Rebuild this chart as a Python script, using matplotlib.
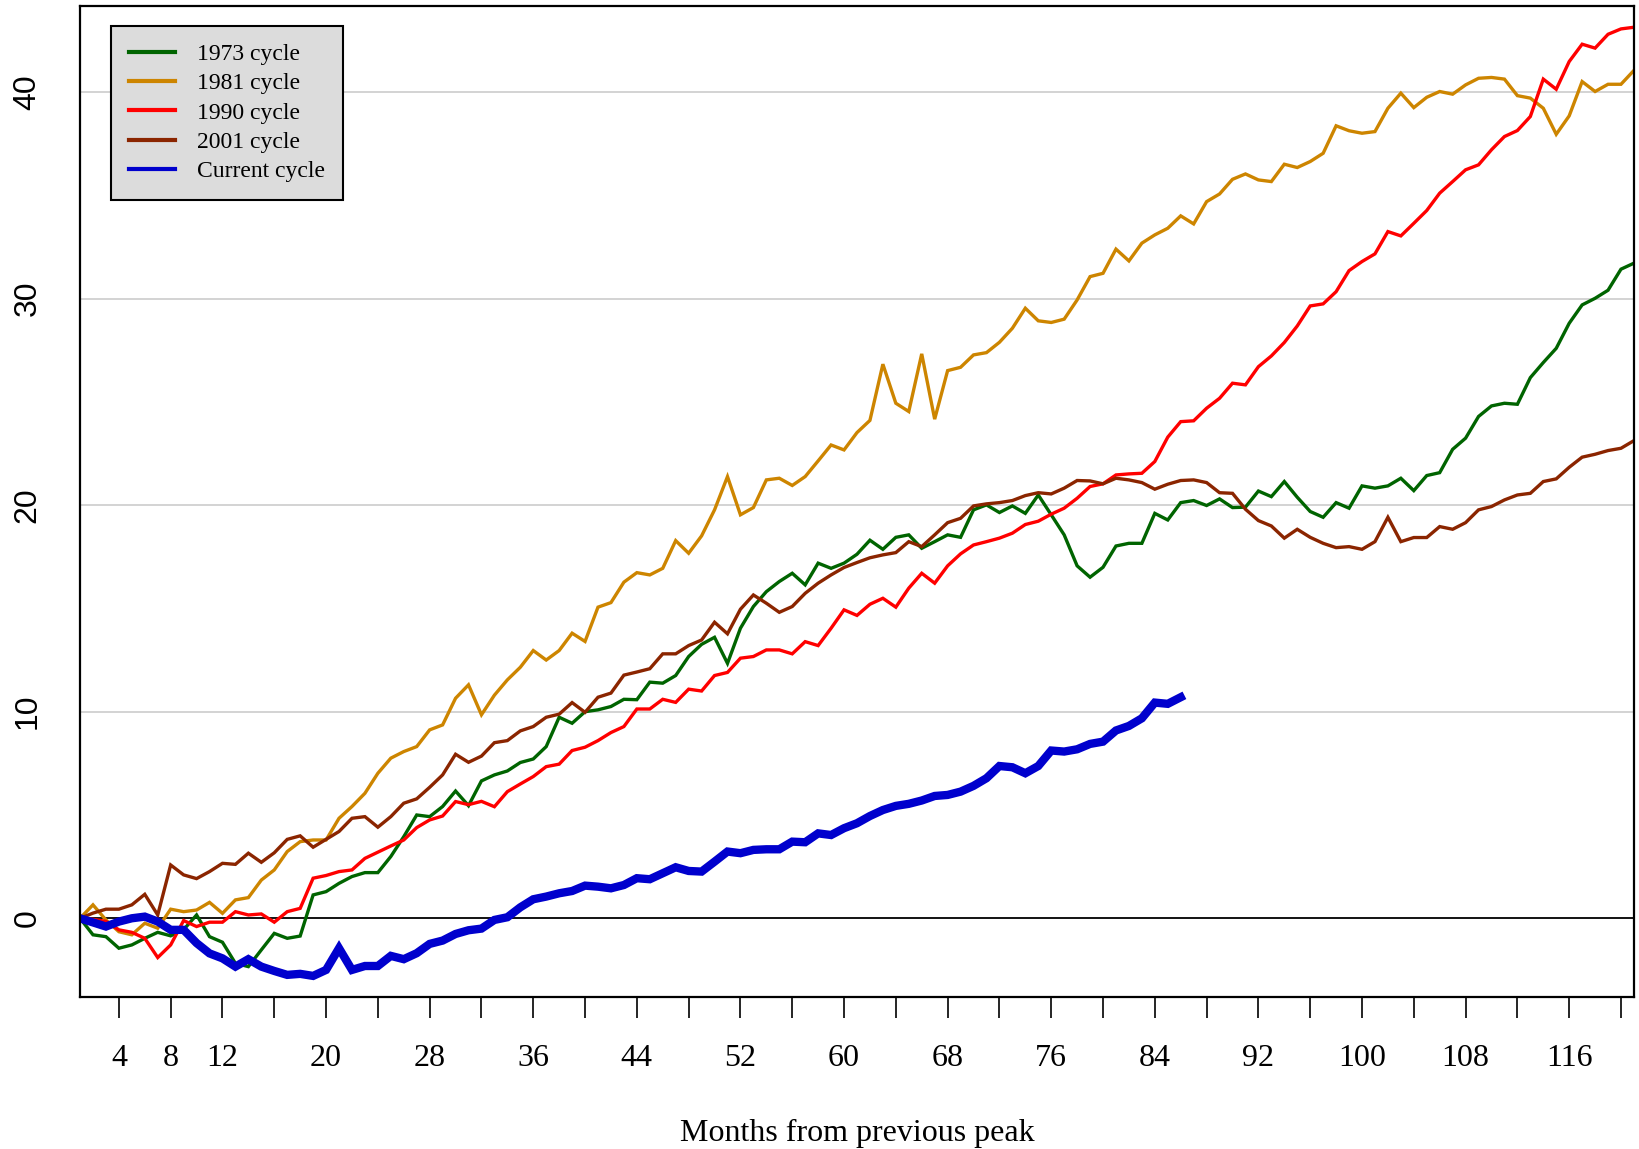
import numpy as np
import matplotlib
matplotlib.use("Agg")
import matplotlib.pyplot as plt

# employment change from previous peak, by month (index 1 = peak)
cycle_1973 = [0, -0.8, -0.89, -1.45, -1.29, -0.97, -0.68, -0.85, -0.55, 0.16,
              -0.89, -1.16, -2.18, -2.34, -1.53, -0.73, -0.97, -0.86, 1.13, 1.29,
              1.69, 2.02, 2.21, 2.21, 2.99, 3.95, 5.0, 4.92, 5.41, 6.16,
              5.45, 6.65, 6.94, 7.13, 7.54, 7.71, 8.31, 9.73, 9.44, 10.0,
              10.09, 10.25, 10.6, 10.58, 11.43, 11.38, 11.75, 12.67, 13.26, 13.6,
              12.34, 14.04, 15.09, 15.81, 16.3, 16.7, 16.14, 17.19, 16.94, 17.19,
              17.62, 18.3, 17.86, 18.44, 18.56, 17.91, 18.23, 18.56, 18.44, 19.77,
              20.01, 19.64, 19.96, 19.6, 20.49, 19.53, 18.56, 17.06, 16.51, 16.99,
              18.02, 18.15, 18.15, 19.6, 19.28, 20.12, 20.22, 19.98, 20.3, 19.88,
              19.9, 20.68, 20.41, 21.14, 20.38, 19.69, 19.41, 20.12, 19.85, 20.93,
              20.82, 20.93, 21.3, 20.7, 21.43, 21.57, 22.7, 23.24, 24.29, 24.8,
              24.93, 24.88, 26.17, 26.9, 27.59, 28.8, 29.69, 30.01, 30.4, 31.42,
              31.71]
cycle_1981 = [0, 0.65, -0.08, -0.65, -0.8, -0.24, -0.48, 0.44, 0.32, 0.40,
              0.77, 0.24, 0.89, 1.0, 1.85, 2.34, 3.23, 3.71, 3.79, 3.79,
              4.84, 5.41, 6.05, 7.02, 7.75, 8.07, 8.31, 9.12, 9.36, 10.65,
              11.3, 9.85, 10.8, 11.54, 12.15, 12.96, 12.5, 12.96, 13.8, 13.4,
              15.06, 15.28, 16.27, 16.73, 16.62, 16.94, 18.28, 17.67, 18.51, 19.77,
              21.38, 19.53, 19.88, 21.22, 21.3, 20.95, 21.38, 22.14, 22.91, 22.67,
              23.51, 24.1, 26.82, 24.93, 24.53, 27.32, 24.16, 26.51, 26.67, 27.27,
              27.38, 27.88, 28.56, 29.53, 28.92, 28.84, 29.0, 29.93, 31.06, 31.22,
              32.39, 31.82, 32.68, 33.08, 33.4, 34.0, 33.61, 34.69, 35.06, 35.77,
              36.03, 35.74, 35.66, 36.5, 36.34, 36.63, 37.03, 38.36, 38.12, 38.0,
              38.08, 39.21, 39.94, 39.24, 39.74, 40.02, 39.89, 40.34, 40.66, 40.7,
              40.62, 39.82, 39.7, 39.21, 37.95, 38.84, 40.5, 40.02, 40.37, 40.37,
              41.04]
cycle_1990 = [0, -0.05, -0.15, -0.56, -0.68, -0.97, -1.9, -1.29, -0.11, -0.4,
              -0.19, -0.19, 0.32, 0.16, 0.21, -0.19, 0.32, 0.48, 1.94, 2.07,
              2.26, 2.34, 2.9, 3.2, 3.5, 3.79, 4.39, 4.76, 4.95, 5.65,
              5.5, 5.66, 5.4, 6.13, 6.5, 6.86, 7.34, 7.46, 8.12, 8.28,
              8.6, 8.99, 9.28, 10.13, 10.13, 10.6, 10.45, 11.09, 11.0, 11.75,
              11.9, 12.59, 12.67, 12.99, 12.99, 12.8, 13.39, 13.2, 14.04, 14.93,
              14.66, 15.2, 15.49, 15.06, 15.98, 16.7, 16.22, 17.06, 17.64, 18.07,
              18.23, 18.4, 18.64, 19.06, 19.22, 19.56, 19.85, 20.33, 20.9, 21.03,
              21.46, 21.51, 21.54, 22.11, 23.29, 24.04, 24.08, 24.69, 25.17, 25.9,
              25.82, 26.7, 27.22, 27.87, 28.67, 29.64, 29.74, 30.33, 31.35, 31.79,
              32.16, 33.24, 33.03, 33.64, 34.26, 35.1, 35.66, 36.23, 36.47, 37.2,
              37.84, 38.13, 38.81, 40.62, 40.13, 41.47, 42.31, 42.12, 42.79, 43.05,
              43.13]
cycle_2001 = [0, 0.25, 0.44, 0.44, 0.65, 1.16, 0.16, 2.58, 2.1, 1.92,
              2.26, 2.66, 2.61, 3.15, 2.71, 3.17, 3.82, 3.99, 3.44, 3.82,
              4.2, 4.84, 4.92, 4.41, 4.92, 5.57, 5.78, 6.34, 6.94, 7.94,
              7.55, 7.85, 8.5, 8.6, 9.07, 9.28, 9.73, 9.88, 10.44, 9.97,
              10.7, 10.9, 11.77, 11.92, 12.08, 12.8, 12.8, 13.2, 13.47, 14.33,
              13.77, 14.96, 15.65, 15.25, 14.81, 15.09, 15.73, 16.22, 16.62, 16.98,
              17.22, 17.45, 17.59, 17.7, 18.23, 17.99, 18.56, 19.15, 19.36, 19.96,
              20.06, 20.12, 20.22, 20.46, 20.6, 20.54, 20.82, 21.19, 21.17, 21.03,
              21.3, 21.22, 21.09, 20.77, 21.01, 21.19, 21.22, 21.09, 20.6, 20.57,
              19.8, 19.25, 18.99, 18.4, 18.83, 18.44, 18.15, 17.94, 17.99, 17.86,
              18.23, 19.41, 18.23, 18.43, 18.43, 18.96, 18.83, 19.15, 19.77, 19.93,
              20.25, 20.49, 20.57, 21.14, 21.27, 21.83, 22.32, 22.46, 22.64, 22.75,
              23.12]
cycle_current = [0, -0.2, -0.4, -0.16, 0.0, 0.08, -0.16, -0.56, -0.56, -1.2,
                 -1.7, -1.94, -2.34, -1.98, -2.34, -2.55, -2.74, -2.69, -2.79, -2.5,
                 -1.45, -2.5, -2.31, -2.31, -1.82, -1.98, -1.69, -1.24, -1.08, -0.76,
                 -0.58, -0.5, -0.08, 0.05, 0.53, 0.92, 1.05, 1.21, 1.32, 1.58,
                 1.53, 1.45, 1.61, 1.94, 1.89, 2.18, 2.47, 2.29, 2.26, 2.74,
                 3.23, 3.15, 3.31, 3.34, 3.34, 3.71, 3.68, 4.11, 4.03, 4.36,
                 4.6, 4.95, 5.24, 5.44, 5.54, 5.7, 5.92, 5.97, 6.13, 6.41,
                 6.78, 7.37, 7.31, 7.02, 7.37, 8.12, 8.07, 8.18, 8.44, 8.55,
                 9.09, 9.31, 9.68, 10.44, 10.38, 10.7]

labels = ["1973 cycle", "1981 cycle", "1990 cycle", "2001 cycle", "Current cycle"]
x_ticks = list(range(4, 121, 4))
x_ticklabels = ["4", "8", "12", "", "20", "", "28", "", "36", "", "44", "", "52", "",
                "60", "", "68", "", "76", "", "84", "", "92", "", "100", "", "108",
                "", "116", ""]
y_ticks = [0, 10, 20, 30, 40]

fig = plt.figure(figsize=(16.4, 11.49), dpi=100)
ax = fig.add_axes([0.0488, 0.1323, 0.9475, 0.8625])

for yv in y_ticks[1:]:
    ax.axhline(yv, color="#cccccc", lw=1.2, zorder=1)
ax.axhline(0, color="black", lw=1.3, zorder=1)

series = [cycle_1973, cycle_1981, cycle_1990, cycle_2001, cycle_current]
colors = ["#006400", "#CD8500", "#FF0000", "#8B2500", "#0000CD"]
widths = [2.4, 2.4, 2.4, 2.4, 6.0]
for vals, col, lw, lab in zip(series, colors, widths, labels):
    months = np.arange(1, len(vals) + 1)
    ax.plot(months, vals, color=col, lw=lw, label=lab, zorder=2,
            solid_joinstyle="miter")

ax.set_xlim(1, 121)
ax.set_ylim(-3.81, 44.16)

ax.set_xticks(x_ticks)
ax.set_xticklabels(x_ticklabels, family="Liberation Serif", fontsize=23)
ax.tick_params(axis="x", length=15, width=1.2, pad=19, direction="out")
ax.set_yticks(y_ticks)
ax.set_yticklabels([str(v) for v in y_ticks], family="Liberation Sans",
                   fontsize=23, rotation=90, va="center")
ax.tick_params(axis="y", length=0, pad=27)

for sp in ax.spines.values():
    sp.set_linewidth(1.6)

fig.text(0.5226, 1 - 1133 / 1149, "Months from previous peak",
         family="Liberation Serif", fontsize=23, ha="center", va="center")

leg = ax.legend(loc="upper left", bbox_to_anchor=(0.02, 0.98),
                prop={"family": "Liberation Serif", "size": 17},
                fancybox=False, framealpha=1, facecolor="#dcdcdc",
                edgecolor="black", handlelength=1.95, handletextpad=0.95,
                labelspacing=0.33, borderpad=0.75, borderaxespad=0)
leg.get_frame().set_linewidth(1.5)
for h in leg.get_lines():
    h.set_linewidth(3.0)

fig.savefig("out.png", dpi=100)
